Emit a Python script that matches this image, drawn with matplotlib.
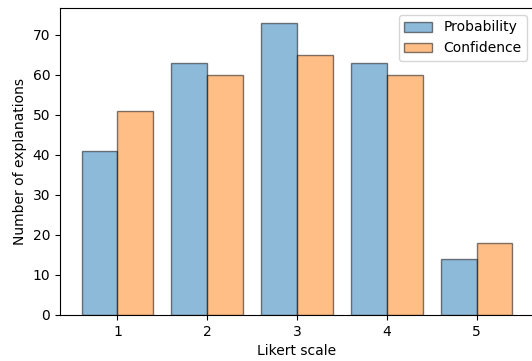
import matplotlib
matplotlib.use("Agg")
import matplotlib.pyplot as plt
import numpy as np

likert = [1, 2, 3, 4, 5]
probability = [41, 63, 73, 63, 14]
confidence = [51, 60, 65, 60, 18]

W, H = 532, 361
fig = plt.figure(figsize=(W/100, H/100), dpi=100)
ax = fig.add_axes([60/W, (H-315)/H, (534-60)/W, 307/H])
x = np.array(likert)
w = 0.4
ax.bar(x - w/2, probability, width=w, color='C0', alpha=0.5, edgecolor='black', label='Probability')
ax.bar(x + w/2, confidence, width=w, color='C1', alpha=0.5, edgecolor='black', label='Confidence')
ax.set_xticks(likert)
ax.set_xlabel('Likert scale')
ax.set_ylabel('Number of explanations')
ax.legend(loc='upper right')
fig.savefig('out.png', dpi=100)
